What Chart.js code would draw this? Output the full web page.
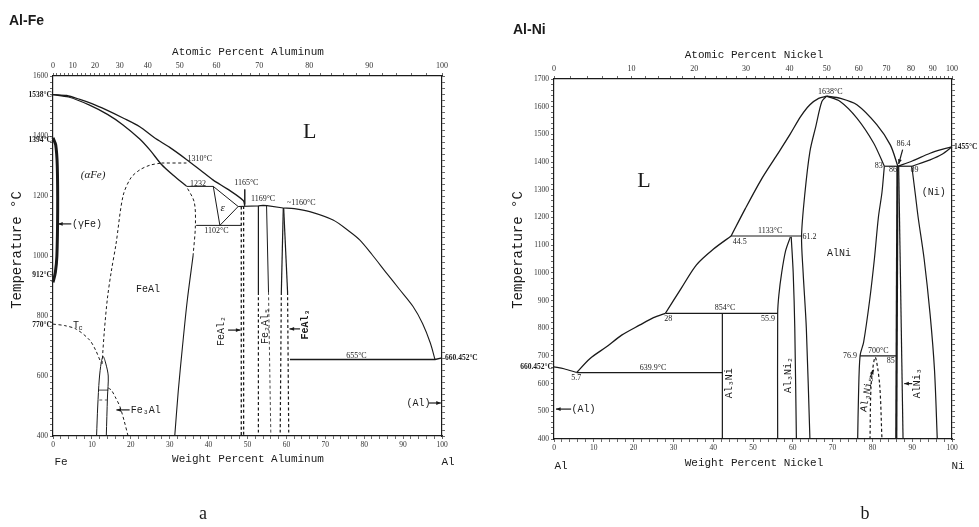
<!DOCTYPE html>
<html lang="en">
<head>
<meta charset="UTF-8" />
<title>Al-Fe / Al-Ni phase diagrams</title>
<script src="https://cdn.jsdelivr.net/npm/chart.js"></script>
<style>
  body { margin: 0; background: #fff; width: 979px; height: 527px; overflow: hidden; position: relative; }
  .box { position: absolute; top: 0; height: 527px; }
  #boxFe { left: 0; width: 490px; }
  #boxNi { left: 490px; width: 489px; }
</style>
</head>
<body>
<div class="box" id="boxFe"><canvas id="feChart"></canvas></div>
<div class="box" id="boxNi"><canvas id="niChart"></canvas></div>
<script>
// tick labels
const wtTicks = [0, 10, 20, 30, 40, 50, 60, 70, 80, 90, 100];
const atTicks = [0, 10, 20, 30, 40, 50, 60, 70, 80, 90, 100];
const feTempTicks = [400, 600, 800, 1000, 1200, 1400, 1600];
const niTempTicks = [400, 500, 600, 700, 800, 900, 1000, 1100, 1200, 1300, 1400, 1500, 1600, 1700];

// ---- Al-Fe curves [wt% Al, °C] ----
const feLiquidus = [[0,1538],[3.5,1535],[6.9,1522],[10,1508],[13.7,1487],[18,1460],[22.3,1431],[26,1395],[30,1362],[34.3,1322],[38,1285],[41.2,1253],[45,1222],[48.9,1185],[49.3,1167]];
const feSolidus = [[0,1538],[4,1530],[9.4,1503],[14,1472],[18,1437],[22.3,1390],[25,1352],[27.9,1305],[31,1268],[34.3,1233]];
const fe1232 = [[34.3,1232],[41.2,1232]];
const feEps = [[41.2,1232],[42.9,1102],[47.6,1165],[41.2,1232]];
const fe1102 = [[36.8,1102],[48.4,1102]];
const fe1165 = [[47.6,1165],[52.8,1167],[54,1169],[55,1168],[59.2,1160]];
const feLiqAl = [[59.2,1160],[62,1158],[66,1148],[72,1120],[76.3,1081],[78.9,1053],[82,1005],[85.8,942],[89,890],[92.6,831],[95,775],[97,710],[98.2,655]];
const fe655 = [[60.9,655],[98.2,655],[100,660.45]];
const feLeader = [[49.3,1222],[49.3,1172]];
const feGamma = [[0,1394],[0.7,1370],[1.1,1300],[1.2,1150],[1.0,1000],[0.6,945],[0,912]];
const feB2Solid = [[31.3,400],[32.2,550],[33.3,700],[34.5,850],[36,1000]];
const feB2Dash = [[36,1000],[36.6,1100],[36.3,1180],[34.3,1232]];
const feDome = [[12.6,640],[13.2,750],[14,860],[15,950],[16.2,1040],[18,1200],[20,1260],[22.3,1287],[25,1303],[27.9,1310]];
const fe1310 = [[27.9,1310],[34.3,1310]];
const feTc = [[0,773],[3,768],[6,756],[9.4,720],[11,685],[12.3,645]];
const feFe3Al = [[11.2,400],[11.5,500],[11.9,590],[12.4,645],[12.9,665],[13.6,640],[14.2,600],[14.0,530],[13.7,400]];
const feTie1 = [[11.6,553],[14.2,553]];
const feTie2 = [[11.9,520],[13.9,520]];
const feFe3AlRight = [[14.2,560],[15,553],[16.2,525],[17.2,498],[18.3,450],[19.3,400]];
const feAl2a = [[48.4,1165],[48.4,400]];
const feAl2b = [[49.0,1166],[49.0,400]];
const fe2Al5L = [[52.8,1167],[52.8,880]], fe2Al5Ld = [[52.8,880],[52.8,400]];
const fe2Al5R = [[54.9,1168],[55.4,880]], fe2Al5Rd = [[55.4,880],[56,400]];
const feAl3L = [[59.2,1160],[58.7,880]], feAl3Ld = [[58.7,880],[58.4,400]];
const feAl3R = [[59.3,1160],[60.3,880]], feAl3Rd = [[60.3,880],[60.6,400]];

// ---- Al-Ni curves [wt% Ni, °C] ----
const niLiqA = [[0,660.45],[2.5,654],[5.7,639.9]];
const niLiqB = [[5.7,639.9],[9,690],[13.2,733],[17,775],[21.6,812],[25,838],[28,854]];
const niLiqC = [[28,854],[32,945],[35.8,1029],[40,1085],[44.5,1133]];
const niLiqD = [[44.5,1133],[48,1230],[52,1335],[56,1425],[59.3,1500],[62,1565],[64.3,1607],[66.5,1630],[68.5,1638]];
const niLiqE = [[68.5,1638],[72,1630],[76.1,1607],[81.1,1535],[84.5,1462],[86.4,1385]];
const niAlNiL = [[68.5,1638],[67.3,1619],[65.8,1530],[64.3,1438],[63,1282],[62.2,1133],[62.6,1000],[63.4,800],[64.3,400]];
const niAlNiTop = [[68.5,1638],[71.9,1619],[76.1,1559],[80.3,1469],[83,1385]];
const niAlNiR = [[83,1385],[82.4,1290],[81.5,1200],[80.5,1050],[79.3,900],[77.8,750],[76.9,700],[76.5,550],[76.3,400]];
const ni1133 = [[44.5,1133],[62.2,1133]];
const ni854 = [[28,854],[56.2,854]];
const ni640 = [[5.7,639.9],[42.3,639.9]];
const niAl3Ni = [[42.3,854],[42.3,400]];
const niAl3Ni2L = [[59.4,1130],[58.2,1080],[57.2,1000],[56.5,920],[56.2,854],[56.2,400]];
const niAl3Ni2R = [[59.6,1130],[60.1,1000],[60.5,800],[60.9,400]];
const ni1385 = [[83,1385],[89.9,1385]];
const niAlNi3L = [[86.3,1385],[86.0,400]];
const niAlNi3R = [[86.6,1385],[87.7,400]];
const niNiBound = [[89.9,1385],[90.8,1282],[91.5,1200],[93,1050],[94.5,850],[95.6,650],[96.3,400]];
const niNiLiq = [[86.4,1385],[90,1404],[94.5,1432],[97.5,1446],[100,1455]];
const niNiSol = [[89.9,1385],[94.5,1408],[97.5,1428],[100,1455]];
const ni700 = [[76.9,700],[86,700]];
const niAl3Ni5 = [[79.4,400],[79.7,600],[80.7,695],[81.8,600],[82.4,400]];

// atomic -> weight percent for the top axes
const wtFromAtFe = a => 100 * a * 26.98 / (a * 26.98 + (100 - a) * 55.85);
const wtFromAtNi = a => 100 * a * 58.69 / (a * 58.69 + (100 - a) * 26.98);

const INK = '#1a1a1a';
const line = (pts, w = 1.1, t = 0.3) => ({
  data: pts.map(([x, y]) => ({ x, y })), showLine: true, pointRadius: 0,
  borderColor: INK, borderWidth: w, tension: t, fill: false, clip: false
});
const dash = (pts, w = 1) => Object.assign(line(pts, w), { borderDash: [3, 2.5] });

const noteFonts = {
  num: '8px "Liberation Serif"',
  numB: 'bold 7.5px "Liberation Serif"',
  phase: '10px "Liberation Mono"',
  phaseB: 'bold 10px "Liberation Mono"',
  ital: 'italic 11px "Liberation Serif"',
  small: '7px "Liberation Mono"',
  big: '22px "Liberation Serif"'
};

function arrow(ctx, x1, y1, x2, y2) {
  const ang = Math.atan2(y2 - y1, x2 - x1);
  ctx.lineWidth = 1.2;
  ctx.beginPath(); ctx.moveTo(x1, y1); ctx.lineTo(x2, y2); ctx.stroke();
  ctx.beginPath();
  ctx.moveTo(x2, y2);
  ctx.lineTo(x2 - 5 * Math.cos(ang - 0.4), y2 - 5 * Math.sin(ang - 0.4));
  ctx.lineTo(x2 - 5 * Math.cos(ang + 0.4), y2 - 5 * Math.sin(ang + 0.4));
  ctx.closePath(); ctx.fill();
}

const notesPlugin = {
  id: 'notes',
  afterDraw(chart, args, o) {
    const { ctx, scales } = chart;
    const px = v => scales.x.getPixelForValue(v), py = v => scales.y.getPixelForValue(v);
    ctx.save();
    ctx.fillStyle = INK; ctx.strokeStyle = INK;
    o.arrows.forEach(([x1, y1, x2, y2]) => arrow(ctx, px(x1), py(y1), px(x2), py(y2)));
    const put = (t, x, y, font, align, rot) => {
      ctx.save();
      ctx.translate(x, y);
      if (rot) ctx.rotate(rot * Math.PI / 180);
      ctx.font = font; ctx.textAlign = align || 'center'; ctx.textBaseline = 'middle';
      ctx.fillText(t, 0, 0);
      ctx.restore();
    };
    o.notes.forEach(([t, x, y, st, al, rot, dx]) => put(t, px(x) + (dx || 0), py(y), noteFonts[st], al, rot));
    o.frame.forEach(([t, x, y, font, al, rot]) => put(t, x, y, font, al, rot));
    ctx.restore();
  }
};

function makeChart(id, c) {
  const grid = { drawOnChartArea: false, drawTicks: true, tickLength: 3, color: '#444', lineWidth: 0.8 };
  const border = { display: true, color: INK, width: 1.2 };
  const tickFont = { family: 'Liberation Serif', size: 7.5 };
  const steps = (lo, hi, st) => { const r = []; for (let v = lo; v <= hi + 1e-9; v += st) r.push({ value: v }); return r; };
  return new Chart(document.getElementById(id), {
    type: 'scatter',
    data: { datasets: c.datasets },
    options: {
      responsive: true, maintainAspectRatio: false, animation: false,
      layout: { padding: 0 },
      plugins: { legend: { display: false }, tooltip: { enabled: false },
        notes: { notes: c.notes, arrows: c.arrows, frame: c.frame } },
      scales: {
        x: {
          type: 'linear', position: 'bottom', min: 0, max: 100, grid, border,
          afterFit: s => { s.height = c.bottom; },
          afterBuildTicks: s => { s.ticks = steps(0, 100, 2); },
          ticks: { autoSkip: false, maxRotation: 0, padding: 2, color: '#333', font: tickFont,
            callback: v => wtTicks.includes(v) ? v : '' }
        },
        x2: {
          type: 'linear', position: 'top', min: 0, max: 100, grid, border,
          afterFit: s => { s.height = c.top; },
          afterBuildTicks: s => {
            const r = [];
            for (let a = 0; a <= 100; a += 2) r.push({ value: c.atToWt(a), at: a });
            s.ticks = r;
          },
          ticks: { autoSkip: false, maxRotation: 0, padding: 2, color: '#333', font: { family: 'Liberation Serif', size: 8 },
            callback: (v, i, t) => atTicks.includes(t[i].at) ? t[i].at : '' }
        },
        y: {
          type: 'linear', position: 'left', min: c.tMin, max: c.tMax, grid, border,
          afterFit: s => { s.width = c.left; },
          afterBuildTicks: s => { s.ticks = steps(c.tMin, c.tMax, 20); },
          ticks: { autoSkip: false, padding: 2, color: '#333', font: tickFont,
            callback: v => c.tempTicks.includes(v) ? v : '' }
        },
        y2: {
          type: 'linear', position: 'right', min: c.tMin, max: c.tMax, grid, border,
          afterFit: s => { s.width = c.right; },
          afterBuildTicks: s => { s.ticks = steps(c.tMin, c.tMax, 20); },
          ticks: { display: false }
        }
      }
    },
    plugins: [notesPlugin]
  });
}

const mono11 = '11px "Liberation Mono"';
const mono14 = '14px "Liberation Mono"';

makeChart('feChart', {
  tMin: 400, tMax: 1600, tempTicks: feTempTicks, atToWt: wtFromAtFe,
  left: 53, right: 48, top: 76, bottom: 91,
  datasets: [
    line(feLiquidus, 1.3), line(feSolidus, 1.3), line(fe1232, 1, 0), line(feEps, 1, 0), line(fe1102, 1, 0),
    line(fe1165, 1.2, 0), line(feLiqAl, 1.1), line(fe655, 1.3, 0), line(feLeader, 0.8, 0),
    line(feGamma, 3, 0.3), line(feB2Solid, 1.1), dash(feB2Dash), dash(feDome), dash(fe1310),
    dash(feTc), line(feFe3Al, 1, 0.3), line(feTie1, 0.8, 0), dash(feTie2, 0.7), dash(feFe3AlRight),
    dash(feAl2a, 1.3), dash(feAl2b, 1.3),
    line(fe2Al5L, 1.2, 0), dash(fe2Al5Ld, 1.2), line(fe2Al5R, 1, 0), dash(fe2Al5Rd, 0.8),
    line(feAl3L, 1.2, 0), dash(feAl3Ld, 1.2), line(feAl3R, 1.2, 0), dash(feAl3Rd, 1.2)
  ],
  notes: [
    ['1538°C', 0, 1538, 'numB', 'right', 0, -1],
    ['1394°C', 0, 1386, 'numB', 'right', 0, -1],
    ['912°C', 0, 935, 'numB', 'right', 0, -1],
    ['770°C', 0, 770, 'numB', 'right', 0, -1],
    ['660.452°C', 100, 659, 'numB', 'left', 0, 3],
    ['1310°C', 34.6, 1322, 'num', 'left'],
    ['1232', 35.2, 1240, 'num', 'left'],
    ['1165°C', 49.7, 1244, 'num'],
    ['1169°C', 54, 1189, 'num'],
    ['~1160°C', 63.8, 1177, 'num'],
    ['1102°C', 42, 1083, 'num'],
    ['ε', 43.6, 1158, 'ital'],
    ['(αFe)', 10.3, 1270, 'ital'],
    ['L', 66, 1414, 'big'],
    ['FeAl', 24.4, 889, 'phase'],
    ['T', 5.9, 768, 'phase'],
    ['c', 7.1, 760, 'small'],
    ['(γFe)', 4.9, 1107, 'phase', 'left'],
    ['Fe₃Al', 20, 487, 'phase', 'left'],
    ['FeAl₂', 43.4, 750, 'phase', 'center', -90],
    ['Fe₂Al₅', 54.5, 767, 'phase', 'center', -90],
    ['FeAl₃', 65, 772, 'phaseB', 'center', -90],
    ['655°C', 78, 668, 'num'],
    ['(Al)', 90.9, 510, 'phase', 'left']
  ],
  arrows: [
    [4.7, 1107, 1.3, 1107], [19.7, 487, 16.3, 487], [45, 753, 48.2, 753],
    [63.5, 757, 60.8, 757], [96.6, 510, 99.7, 510]
  ],
  frame: [
    ['Al-Fe', 9, 21, 'bold 14px "Liberation Sans"', 'left', 0],
    ['Atomic Percent Aluminum', 248, 52, mono11, 'center', 0],
    ['Weight Percent Aluminum', 248, 459, mono11, 'center', 0],
    ['Fe', 61, 462, mono11, 'center', 0],
    ['Al', 448, 462, mono11, 'center', 0],
    ['Temperature °C', 17, 250, mono14, 'center', -90],
    ['a', 203, 514, '18px "Liberation Serif"', 'center', 0]
  ]
});

makeChart('niChart', {
  tMin: 400, tMax: 1700, tempTicks: niTempTicks, atToWt: wtFromAtNi,
  left: 64, right: 27, top: 79, bottom: 88,
  datasets: [
    line(niLiqA, 1.1), line(niLiqB, 1.3), line(niLiqC, 1.3), line(niLiqD, 1.3), line(niLiqE, 1.3),
    line(niAlNiL, 1.2), line(niAlNiTop, 1.2), line(niAlNiR, 1.2),
    line(ni1133, 1.2, 0), line(ni854, 1.2, 0), line(ni640, 1.2, 0), line(niAl3Ni, 1.2, 0),
    line(niAl3Ni2L, 1.2), line(niAl3Ni2R, 1.2), line(ni1385, 1.2, 0),
    line(niAlNi3L, 2.2, 0), line(niAlNi3R, 1.2, 0), line(niNiBound, 1.2),
    line(niNiLiq, 1.2), line(niNiSol, 1.2), line(ni700, 1.2, 0), dash(niAl3Ni5, 1.2)
  ],
  notes: [
    ['660.452°C', 0, 660, 'numB', 'right', 0, -1],
    ['1455°C', 100, 1455, 'numB', 'left', 0, 2],
    ['1638°C', 69.4, 1652, 'num'],
    ['1133°C', 54.3, 1150, 'num'],
    ['44.5', 46.7, 1112, 'num'],
    ['61.2', 64.2, 1131, 'num'],
    ['AlNi', 71.6, 1071, 'phase'],
    ['854°C', 43, 872, 'num'],
    ['28', 28.7, 835, 'num'],
    ['55.9', 53.8, 833, 'num'],
    ['639.9°C', 24.9, 656, 'num'],
    ['5.7', 5.6, 622, 'num'],
    ['(Al)', 4.4, 508, 'phase', 'left'],
    ['L', 22.6, 1330, 'big'],
    ['(Ni)', 95.4, 1290, 'phase'],
    ['86.4', 87.8, 1464, 'num'],
    ['83', 81.6, 1385, 'num'],
    ['86', 85.2, 1372, 'num'],
    ['89', 90.6, 1370, 'num'],
    ['700°C', 81.5, 719, 'num'],
    ['76.9', 74.4, 700, 'num'],
    ['85', 84.6, 682, 'num'],
    ['Al₃Ni', 44, 601, 'phase', 'center', -90],
    ['Al₃Ni₂', 58.9, 631, 'phase', 'center', -90],
    ['Al₃Ni₅', 78.6, 562, 'phase', 'center', -80],
    ['AlNi₃', 91.2, 601, 'phase', 'center', -90]
  ],
  arrows: [
    [4.3, 508, 0.5, 508], [87.6, 1445, 86.6, 1393], [79.4, 622, 80.3, 650], [90, 600, 88, 600]
  ],
  frame: [
    ['Al-Ni', 23, 30, 'bold 14px "Liberation Sans"', 'left', 0],
    ['Atomic Percent Nickel', 264, 55, mono11, 'center', 0],
    ['Weight Percent Nickel', 264, 463, mono11, 'center', 0],
    ['Al', 71, 466, mono11, 'center', 0],
    ['Ni', 468, 466, mono11, 'center', 0],
    ['Temperature °C', 28, 250, mono14, 'center', -90],
    ['b', 375, 514, '18px "Liberation Serif"', 'center', 0]
  ]
});
</script>
</body>
</html>
